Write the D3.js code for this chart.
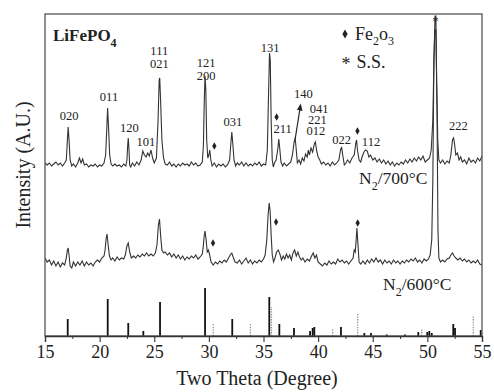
<!DOCTYPE html>
<html>
<head>
<meta charset="utf-8">
<script src="https://cdn.jsdelivr.net/npm/d3@7"></script>
<style>
  body { margin: 0; background: #fff; }
  text { font-family: "Liberation Serif", "Times New Roman", serif; fill: #222; }
</style>
</head>
<body>
<div id="chart"></div>
<script>
// XRD pattern, N2 / 700 C
var angle700 = [15.0,15.2,15.4,15.6,15.8,16.0,16.2,16.4,16.6,16.8,16.95,17.05,17.12,17.2,17.3,17.45,17.6,17.8,18.0,18.15,18.3,18.45,18.6,18.8,19.0,19.2,19.4,19.6,19.8,20.0,20.2,20.4,20.55,20.65,20.73,20.82,20.92,21.05,21.2,21.4,21.6,21.8,22.0,22.2,22.4,22.5,22.57,22.62,22.68,22.75,22.85,23.0,23.2,23.4,23.6,23.8,23.95,24.1,24.25,24.4,24.55,24.7,24.85,25.0,25.2,25.35,25.45,25.5,25.58,25.7,25.85,26.0,26.2,26.4,26.6,26.8,27.0,27.2,27.4,27.6,27.8,28.0,28.2,28.4,28.6,28.8,29.0,29.2,29.4,29.5,29.58,29.65,29.72,29.8,29.9,30.0,30.08,30.18,30.3,30.5,30.7,30.9,31.1,31.3,31.5,31.7,31.9,32.0,32.1,32.2,32.3,32.45,32.6,32.8,33.0,33.2,33.4,33.6,33.8,34.0,34.2,34.4,34.6,34.8,35.0,35.2,35.35,35.45,35.55,35.62,35.7,35.8,35.9,36.0,36.15,36.3,36.4,36.5,36.6,36.75,36.9,37.1,37.3,37.5,37.65,37.8,37.9,38.0,38.1,38.25,38.4,38.55,38.7,38.85,39.0,39.1,39.2,39.35,39.5,39.65,39.75,39.85,40.0,40.15,40.3,40.5,40.7,40.9,41.1,41.3,41.5,41.7,41.9,42.05,42.15,42.25,42.4,42.55,42.7,42.9,43.1,43.3,43.45,43.52,43.6,43.75,43.9,44.05,44.2,44.35,44.5,44.65,44.8,45.0,45.2,45.4,45.6,45.8,46.0,46.2,46.4,46.6,46.8,47.0,47.2,47.4,47.6,47.8,48.0,48.2,48.4,48.6,48.8,49.0,49.2,49.4,49.6,49.8,50.0,50.2,50.35,50.5,50.6,50.7,50.78,50.85,50.95,51.05,51.2,51.4,51.6,51.8,52.0,52.15,52.3,52.4,52.5,52.6,52.75,52.9,53.05,53.2,53.4,53.6,53.8,54.0,54.2,54.4,54.6,54.8,55.0];
var count700 = [173,171,173,170,172,174,171,173,170,173,176,196,209,196,176,170,172,169,173,178,173,177,171,172,169,171,170,172,169,171,170,173,181,206,228,208,181,172,170,172,170,171,169,172,170,176,191,198,188,171,169,173,170,174,171,176,185,181,179,183,180,186,178,173,178,216,256,258,236,196,178,172,171,174,170,172,169,172,170,173,171,172,170,174,171,173,170,171,174,191,236,260,246,196,178,181,186,176,170,173,169,172,170,172,169,171,176,191,204,191,176,170,173,171,174,170,173,170,172,170,173,171,174,170,172,171,186,236,283,276,216,176,169,173,176,186,197,186,174,170,173,170,172,174,181,194,198,186,173,176,172,178,175,182,179,186,181,188,184,192,194,186,179,176,172,174,171,173,170,174,171,173,176,186,189,181,171,173,176,173,178,181,193,196,186,176,174,180,184,186,185,179,181,176,178,174,177,173,176,172,175,171,174,170,173,171,174,172,176,173,177,174,178,175,179,176,180,174,176,178,186,216,276,320,320,256,196,176,173,176,172,175,173,181,196,198,191,181,183,176,179,174,176,172,178,174,176,173,178,175,180];

// XRD pattern, N2 / 600 C
var angle600 = [15.0,15.2,15.4,15.6,15.8,16.0,16.2,16.4,16.6,16.8,16.95,17.05,17.12,17.2,17.3,17.45,17.6,17.8,18.0,18.2,18.4,18.6,18.8,19.0,19.2,19.4,19.6,19.8,20.0,20.2,20.4,20.5,20.6,20.68,20.78,20.9,21.05,21.2,21.4,21.6,21.8,22.0,22.2,22.35,22.5,22.62,22.75,22.9,23.1,23.3,23.5,23.7,23.9,24.1,24.3,24.5,24.7,24.9,25.1,25.25,25.38,25.48,25.58,25.7,25.85,26.0,26.2,26.4,26.6,26.8,27.0,27.2,27.4,27.6,27.8,28.0,28.2,28.4,28.6,28.8,29.0,29.2,29.4,29.5,29.58,29.65,29.75,29.85,29.95,30.05,30.2,30.4,30.6,30.8,31.0,31.2,31.4,31.6,31.8,31.95,32.1,32.25,32.4,32.6,32.8,33.0,33.2,33.4,33.6,33.8,34.0,34.2,34.4,34.6,34.8,35.0,35.15,35.3,35.42,35.52,35.6,35.7,35.8,35.92,36.05,36.2,36.35,36.5,36.65,36.8,36.95,37.1,37.25,37.4,37.55,37.7,37.85,38.0,38.15,38.3,38.45,38.6,38.8,39.0,39.2,39.4,39.55,39.7,39.85,40.0,40.2,40.4,40.6,40.8,41.0,41.2,41.4,41.6,41.8,42.0,42.2,42.4,42.6,42.8,43.0,43.2,43.3,43.4,43.48,43.55,43.65,43.75,43.9,44.1,44.3,44.5,44.7,44.9,45.1,45.3,45.5,45.7,45.9,46.1,46.3,46.5,46.7,46.9,47.1,47.3,47.5,47.7,47.9,48.1,48.3,48.5,48.7,48.9,49.1,49.3,49.5,49.7,49.9,50.1,50.25,50.4,50.5,50.6,50.68,50.78,50.88,50.97,51.05,51.2,51.4,51.6,51.8,52.0,52.15,52.3,52.45,52.6,52.8,53.0,53.2,53.4,53.6,53.8,54.0,54.2,54.4,54.6,54.8,55.0];
var count600 = [78,74,76,71,75,70,74,69,73,71,78,86,88,81,70,68,74,70,74,71,75,70,74,71,73,70,74,76,74,78,80,86,98,102,91,80,76,78,75,79,76,78,77,81,90,93,84,78,80,78,81,79,82,80,83,80,82,80,83,91,111,117,101,86,83,84,81,83,79,82,78,81,77,80,76,79,77,80,78,81,77,79,82,91,101,105,96,84,86,82,74,71,74,72,75,73,76,74,78,81,83,78,74,73,76,72,75,78,73,76,72,75,73,76,74,77,81,96,121,133,126,101,81,74,78,84,86,82,76,80,77,82,78,81,76,83,86,80,84,79,76,78,74,77,75,80,83,78,81,74,72,70,73,71,75,72,74,72,77,74,76,73,75,72,75,78,86,84,96,108,91,74,72,75,72,76,73,77,74,78,74,76,72,76,73,75,72,76,73,75,72,75,73,76,74,77,75,78,74,76,73,77,75,77,81,96,156,276,306,306,226,106,78,74,76,74,77,78,81,83,80,78,76,78,75,77,74,76,73,75,73,76,72,71];

// reference pattern sticks (LiFePO4) and Fe2O3 (dotted)
var refAngle = [17.08,20.74,22.62,24.0,25.53,29.65,32.14,35.53,36.45,37.79,39.26,39.5,39.65,42.09,44.23,44.84,46.28,47.95,49.17,49.99,50.18,50.4,52.37,52.53,54.88];
var refCount = [17,37,13,5,34,48,17,39,12,8,5,8,9,9,3,3,1.5,1.5,4,4,5,3,12,8,6];
var feAngle = [30.4,33.8,35.73,41.33,43.62,49.48,54.2];
var feCount = [13,13,29,7,23,7,20];

// peak labels
var millerText = ["020","011","120","101","111","021","121","200","031","131","211","140","041","221","012","022","112","222"];
var millerAngle = [17.2,20.86,22.72,24.24,25.46,25.46,29.74,29.74,32.2,35.6,36.76,38.64,40.1,39.94,39.8,42.16,44.84,52.83];
var millerLevel = [216,235,204,190,281,268,269,256,210,284,203,238,223,212.5,201,192,190,206];
var feMarkAngle = [30.5,36.2,43.6,30.38,36.15,43.62];
var feMarkLevel = [190,219,205,93,114,113];

var xTicks = [15,20,25,30,35,40,45,50,55];
var xMinor = [17.5,22.5,27.5,32.5,37.5,42.5,47.5,52.5];

var margin = {top: 14, right: 12, bottom: 56, left: 45},
    width = 494 - margin.left - margin.right,
    height = 392 - margin.top - margin.bottom;

var svg = d3.select("#chart")
  .append("svg")
    .attr("width", 494)
    .attr("height", 392);

var g = svg.append("g")
    .attr("transform", "translate(" + margin.left + "," + margin.top + ")");

var x = d3.scaleLinear().domain([15, 55]).range([0, width]);
var y = d3.scaleLinear().domain([0, 322]).range([height, 0]);

var defs = svg.append("defs");
defs.append("clipPath").attr("id", "clip")
  .append("rect").attr("width", width).attr("height", height);
defs.append("marker")
    .attr("id", "arrow")
    .attr("viewBox", "0 0 10 10")
    .attr("refX", 5).attr("refY", 5)
    .attr("markerWidth", 6).attr("markerHeight", 6)
    .attr("orient", "auto")
  .append("path")
    .attr("d", "M0,1L10,5L0,9z")
    .attr("fill", "#222");

var line = d3.line()
  .x(function(d) { return x(d[0]); })
  .y(function(d) { return y(d[1]); });

var curves = g.append("g").attr("clip-path", "url(#clip)");
[[angle600, count600], [angle700, count700]].forEach(function(s) {
  curves.append("path")
    .datum(d3.zip(s[0], s[1]))
    .attr("fill", "none")
    .attr("stroke", "#333")
    .attr("stroke-width", 1.1)
    .attr("d", line);
});

// sticks
g.selectAll(".fe")
  .data(d3.zip(feAngle, feCount))
  .enter().append("line")
    .attr("x1", function(d) { return x(d[0]); })
    .attr("x2", function(d) { return x(d[0]); })
    .attr("y1", y(0))
    .attr("y2", function(d) { return y(d[1]); })
    .attr("stroke", "#888")
    .attr("stroke-width", 1.2)
    .attr("stroke-dasharray", "1.3,1.3");

g.selectAll(".ref")
  .data(d3.zip(refAngle, refCount))
  .enter().append("line")
    .attr("x1", function(d) { return x(d[0]); })
    .attr("x2", function(d) { return x(d[0]); })
    .attr("y1", y(0))
    .attr("y2", function(d) { return y(d[1]); })
    .attr("stroke", "#111")
    .attr("stroke-width", 1.8);

// frame
g.append("rect")
  .attr("width", width).attr("height", height)
  .attr("fill", "none")
  .attr("stroke", "#555")
  .attr("stroke-width", 1.3);

// x axis
var xAxis = g.append("g")
  .attr("transform", "translate(0," + height + ")")
  .call(d3.axisBottom(x).tickValues(xTicks).tickSize(6).tickPadding(3).tickFormat(d3.format("d")));
xAxis.select(".domain").attr("stroke", "#333").attr("stroke-width", 1.3);
xAxis.selectAll(".tick line").attr("stroke", "#333").attr("stroke-width", 1.1);
xAxis.selectAll("text")
  .attr("font-size", 18)
  .attr("font-family", "Liberation Serif, serif")
  .attr("fill", "#222");

var minor = g.append("g")
  .attr("transform", "translate(0," + height + ")")
  .call(d3.axisBottom(x).tickValues(xMinor).tickSize(3).tickFormat(""));
minor.select(".domain").remove();
minor.selectAll(".tick line").attr("stroke", "#333");

svg.append("text")
  .attr("x", 257).attr("y", 385)
  .attr("text-anchor", "middle")
  .attr("font-size", 20)
  .text("Two Theta (Degree)");

svg.append("text")
  .attr("transform", "translate(30,165) rotate(-90)")
  .attr("text-anchor", "middle")
  .attr("font-size", 20)
  .text("Intensity (A.U.)");

// peak labels
g.selectAll(".hkl")
  .data(millerText)
  .enter().append("text")
    .attr("x", function(d, i) { return x(millerAngle[i]); })
    .attr("y", function(d, i) { return y(millerLevel[i]); })
    .attr("text-anchor", "middle")
    .attr("font-size", 12.5)
    .text(function(d) { return d; });

// arrow to 140
g.append("line")
  .attr("x1", x(37.9)).attr("y1", y(197))
  .attr("x2", x(38.36)).attr("y2", y(229))
  .attr("stroke", "#222")
  .attr("stroke-width", 1.2)
  .attr("marker-end", "url(#arrow)");

// Fe2O3 marks
var diamond = d3.symbol().type(d3.symbolDiamond).size(16);
g.selectAll(".mark")
  .data(feMarkAngle)
  .enter().append("path")
    .attr("d", diamond)
    .attr("transform", function(d, i) { return "translate(" + x(d) + "," + y(feMarkLevel[i]) + ")"; })
    .attr("fill", "#222");

// S.S. asterisk on top of the peak
g.append("text")
  .attr("x", x(50.74)).attr("y", y(311))
  .attr("text-anchor", "middle")
  .attr("font-size", 12)
  .text("*");

// legend
svg.append("path")
  .attr("d", d3.symbol().type(d3.symbolDiamond).size(24))
  .attr("transform", "translate(345,34)")
  .attr("fill", "#222");
var fe = svg.append("text").attr("x", 355).attr("y", 40).attr("font-size", 18);
fe.append("tspan").text("Fe");
fe.append("tspan").attr("font-size", 12).attr("dy", 5).text("2");
fe.append("tspan").attr("dy", -5).text("o");
fe.append("tspan").attr("font-size", 12).attr("dy", 5).text("3");

svg.append("text").attr("x", 346).attr("y", 70).attr("text-anchor", "middle").attr("font-size", 18).text("*");
svg.append("text").attr("x", 356.5).attr("y", 68).attr("font-size", 18).text("S.S.");

var lfp = svg.append("text").attr("x", 53).attr("y", 41).attr("font-size", 17).attr("font-weight", "bold");
lfp.append("tspan").text("LiFePO");
lfp.append("tspan").attr("font-size", 12).attr("dy", 6).text("4");

function condition(x0, y0, temp) {
  var t = svg.append("text").attr("x", x0).attr("y", y0).attr("font-size", 17.5);
  t.append("tspan").text("N");
  t.append("tspan").attr("font-size", 12).attr("dy", 6).text("2");
  t.append("tspan").attr("dy", -6).text("/" + temp + "\u00b0C");
}
condition(359, 184, 700);
condition(383, 290, 600);
</script>
</body>
</html>
